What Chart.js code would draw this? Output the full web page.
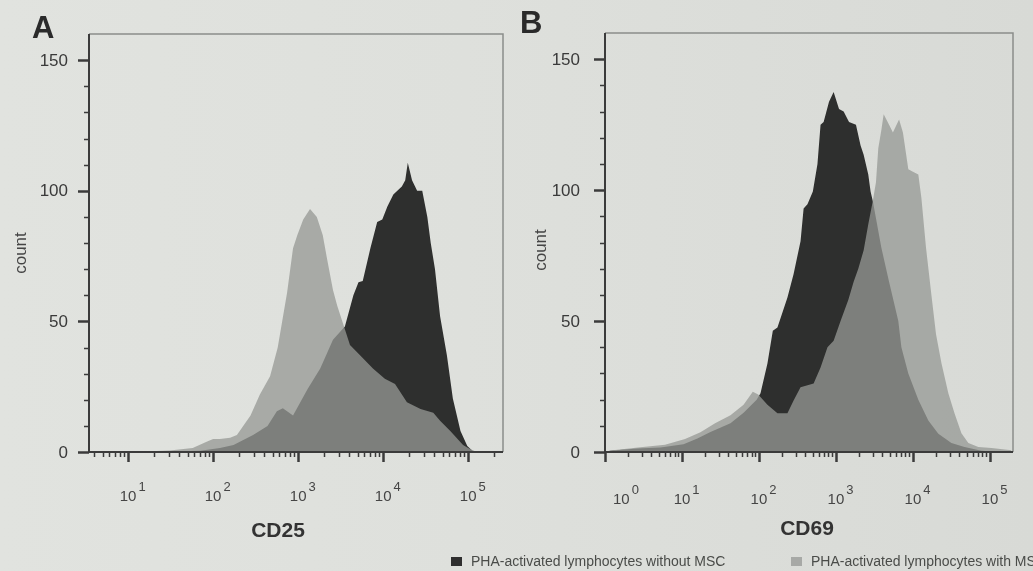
<!DOCTYPE html>
<html>
<head>
<meta charset="utf-8">
<script src="https://cdn.jsdelivr.net/npm/chart.js@4.4.1/dist/chart.umd.min.js"></script>
<style>
  html, body { margin: 0; padding: 0; }
  body {
    width: 1033px; height: 571px; overflow: hidden; position: relative;
    background: linear-gradient(90deg, #e1e3df 0%, #dee0dc 45%, #d8dad6 100%);
    font-family: "Liberation Sans", Arial, sans-serif;
  }
  canvas { position: absolute; top: 0; }
  #panelA { left: 0; }
  #panelB { left: 516px; }
  .key { position: absolute; top: 553px; font-size: 14px; line-height: 16px; color: #4a4c49; white-space: nowrap; filter: blur(0.5px); }
  .key i { display: inline-block; width: 11px; height: 9px; margin-right: 9px; vertical-align: 0px; }
</style>
</head>
<body>
<canvas id="panelA" width="516" height="571"></canvas>
<canvas id="panelB" width="517" height="571"></canvas>
<div class="key" id="key0" style="left:451px"><i style="background:#2f2f2f"></i><span></span></div>
<div class="key" id="key1" style="left:791px"><i style="background:#a7a9a6"></i><span></span></div>

<script>
// Series names shared by both panels
const seriesNames = ['PHA-activated lymphocytes without MSC', 'PHA-activated lymphocytes with MSC'];

// Count axis ticks (both panels)
const countTicks = [0, 50, 100, 150];

// Panel A: CD25 — fluorescence as log10 intensity, and event counts
const cd25Decades = [1, 2, 3, 4, 5];
const cd25WithoutLog = [1.26, 1.85, 2.08, 2.24, 2.47, 2.64, 2.75, 2.82, 2.94, 3.11, 3.26, 3.41, 3.55, 3.65, 3.71, 3.76, 3.85, 3.93, 3.99, 4.05, 4.12, 4.22, 4.26, 4.29, 4.34, 4.40, 4.46, 4.52, 4.56, 4.61, 4.67, 4.75, 4.82, 4.91, 4.99, 5.05, 5.14];
const cd25WithoutCount = [0, 0.5, 1.5, 2.7, 6.5, 10, 15.6, 16.7, 14, 24, 32, 43, 48, 60, 65, 65.5, 78, 88, 89, 94, 98.6, 101.6, 104, 110.7, 104, 100, 100, 90, 80, 70, 52, 37, 20.5, 8, 2.3, 0.5, 0];
const cd25WithLog = [1.0, 1.26, 1.49, 1.76, 1.93, 2.00, 2.08, 2.20, 2.28, 2.44, 2.55, 2.67, 2.76, 2.87, 2.94, 2.99, 3.06, 3.14, 3.22, 3.29, 3.34, 3.41, 3.46, 3.55, 3.61, 3.76, 3.88, 4.02, 4.14, 4.28, 4.44, 4.59, 4.67, 4.79, 4.94, 5.00, 5.08, 5.20];
const cd25WithCount = [0, 0.3, 0.6, 1.5, 4, 5, 5, 5.5, 6.5, 14, 22, 29, 40, 61, 78, 83, 89, 93, 90, 83, 74, 62, 56, 47, 41, 36, 32, 28, 26, 19, 16.5, 15, 12, 8, 2.7, 1.5, 0.3, 0];

// Panel B: CD69 — fluorescence as log10 intensity, and event counts
const cd69Decades = [0, 1, 2, 3, 4, 5];
const cd69WithoutLog = [0, 0.065, 0.42, 0.72, 1.02, 1.20, 1.37, 1.63, 1.80, 1.97, 2.02, 2.11, 2.18, 2.24, 2.37, 2.45, 2.54, 2.58, 2.63, 2.70, 2.76, 2.80, 2.84, 2.91, 2.97, 3.04, 3.10, 3.17, 3.26, 3.32, 3.36, 3.42, 3.45, 3.48, 3.59, 3.69, 3.81, 3.85, 3.94, 4.07, 4.20, 4.33, 4.50, 4.67, 4.89, 5.15];
const cd69WithoutCount = [0, 0.5, 1.3, 1.7, 3, 5.2, 7.6, 11, 15, 20, 22.4, 33.8, 46.3, 47.5, 59, 68, 80.5, 93, 94.6, 99.5, 110, 125, 126, 133.7, 137.5, 131, 130, 126, 125, 117, 113.5, 106, 99.5, 95.7, 78, 65, 50, 40, 30, 20, 12, 7, 3.4, 1.9, 0.5, 0];
const cd69WithLog = [0, 0.13, 0.46, 0.78, 1.04, 1.24, 1.43, 1.63, 1.80, 1.92, 1.99, 2.11, 2.24, 2.37, 2.45, 2.54, 2.71, 2.80, 2.89, 2.97, 3.06, 3.16, 3.23, 3.29, 3.36, 3.42, 3.48, 3.52, 3.55, 3.59, 3.62, 3.69, 3.74, 3.82, 3.87, 3.94, 4.00, 4.07, 4.11, 4.17, 4.24, 4.30, 4.37, 4.46, 4.54, 4.63, 4.72, 4.85, 5.02, 5.28];
const cd69WithCount = [0, 0.8, 1.8, 2.8, 5, 7.5, 11, 14, 18, 23, 22, 18, 14.8, 14.8, 19.7, 24.7, 26.2, 32.3, 40, 42.5, 50, 58, 65, 70, 77, 87, 96, 103, 116, 123, 129, 125, 122, 127, 122, 108, 107, 106, 97, 78, 60, 45, 34, 22.4, 14.8, 7.2, 3.4, 1.9, 1.5, 0.7];

const points = (logs, counts) => logs.map((e, i) => ({ x: Math.pow(10, e), y: counts[i] }));

const FONT = '"Liberation Sans", Arial, sans-serif';

// Draws the frame, tick marks, tick labels and titles from the chart's own scales
const axisDecor = {
  id: 'axisDecor',
  afterDraw(chart, args, o) {
    const { ctx, chartArea: a, scales: { x, y } } = chart;
    ctx.save();

    // light frame on top and right
    ctx.strokeStyle = '#8b8d8a';
    ctx.lineWidth = 1.5;
    ctx.beginPath();
    ctx.moveTo(a.left, a.top); ctx.lineTo(a.right, a.top); ctx.lineTo(a.right, a.bottom);
    ctx.stroke();

    // axis lines
    ctx.strokeStyle = '#3b3b3b';
    ctx.lineWidth = 2;
    ctx.beginPath();
    ctx.moveTo(a.left, a.top); ctx.lineTo(a.left, a.bottom); ctx.lineTo(a.right, a.bottom);
    ctx.stroke();

    // count ticks: majors every 50, minors every 10
    const top = countTicks[countTicks.length - 1];
    for (let v = 0; v <= top; v += 10) {
      const py = Math.round(y.getPixelForValue(v)) + 0.5;
      const major = countTicks.includes(v);
      ctx.lineWidth = major ? 2.5 : 1.5;
      ctx.beginPath();
      ctx.moveTo(a.left, py); ctx.lineTo(a.left - (major ? 11 : 5), py);
      ctx.stroke();
    }
    ctx.fillStyle = '#3a3a3a';
    ctx.font = '17px ' + FONT;
    ctx.textAlign = 'right';
    ctx.textBaseline = 'middle';
    countTicks.forEach(v => ctx.fillText(String(v), a.left - o.yLabelGap, y.getPixelForValue(v) + 1));

    // fluorescence ticks: decades and 2..9 minors
    const lo = Math.log10(x.min), hi = Math.log10(x.max);
    ctx.strokeStyle = '#3b3b3b';
    for (let n = Math.floor(lo); n <= Math.ceil(hi); n++) {
      for (let k = 1; k <= 9; k++) {
        const v = k * Math.pow(10, n);
        if (v < x.min - 1e-9 || v > x.max) continue;
        const px = Math.round(x.getPixelForValue(v)) + 0.5;
        const major = k === 1;
        ctx.lineWidth = major ? 2.5 : 1.5;
        ctx.beginPath();
        ctx.moveTo(px, a.bottom); ctx.lineTo(px, a.bottom + (major ? 10 : 5));
        ctx.stroke();
      }
    }

    // decade labels 10^n
    ctx.textAlign = 'left';
    ctx.textBaseline = 'alphabetic';
    ctx.fillStyle = '#454545';
    o.decades.forEach(d => {
      const px = x.getPixelForValue(Math.pow(10, d));
      ctx.font = '15px ' + FONT;
      const wBase = ctx.measureText('10').width;
      let left = px - wBase / 2;
      if (left < a.left + 6) left = a.left + 8;
      ctx.fillText('10', left, o.xLabelBase);
      ctx.font = '13px ' + FONT;
      ctx.fillText(String(d), left + wBase + 2, o.xLabelBase - 10);
    });

    // axis titles
    ctx.fillStyle = '#333';
    ctx.font = 'bold 21px ' + FONT;
    ctx.textAlign = 'center';
    ctx.textBaseline = 'middle';
    ctx.fillText(o.title, o.titleX, o.titleY);

    ctx.save();
    ctx.translate(o.countX, o.countY);
    ctx.rotate(-Math.PI / 2);
    ctx.fillStyle = '#444';
    ctx.font = '17px ' + FONT;
    ctx.fillText('count', 0, 0);
    ctx.restore();

    // panel letter
    ctx.fillStyle = '#2a2a2a';
    ctx.font = 'bold 31px ' + FONT;
    ctx.textAlign = 'left';
    ctx.textBaseline = 'alphabetic';
    ctx.fillText(o.letter, o.letterX, o.letterY);

    ctx.restore();
  }
};

function makePanel(id, p) {
  return new Chart(document.getElementById(id), {
    type: 'line',
    data: {
      datasets: [
        { label: seriesNames[1], data: points(p.withLog, p.withCount),
          backgroundColor: 'rgba(150,152,149,0.76)', borderColor: 'rgba(0,0,0,0)', fill: 'origin', order: 0 },
        { label: seriesNames[0], data: points(p.withoutLog, p.withoutCount),
          backgroundColor: '#2e2f2e', borderColor: 'rgba(0,0,0,0)', fill: 'origin', order: 1 }
      ]
    },
    options: {
      responsive: false,
      animation: false,
      layout: { padding: p.padding },
      elements: { line: { borderWidth: 0, tension: 0 }, point: { radius: 0, hoverRadius: 0 } },
      plugins: { legend: { display: false }, tooltip: { enabled: false }, axisDecor: p.decor },
      scales: {
        x: { type: 'logarithmic', min: Math.pow(10, p.xMinLog), max: Math.pow(10, p.xMaxLog), display: false },
        y: { type: 'linear', min: 0, max: 160, display: false }
      }
    },
    plugins: [axisDecor]
  });
}

makePanel('panelA', {
  withoutLog: cd25WithoutLog, withoutCount: cd25WithoutCount,
  withLog: cd25WithLog, withCount: cd25WithCount,
  xMinLog: 0.54, xMaxLog: 5.41,
  padding: { left: 89, top: 34, right: 13, bottom: 119 },
  decor: { decades: cd25Decades, title: 'CD25', titleX: 278, titleY: 531, xLabelBase: 501,
           yLabelGap: 21, countX: 21, countY: 253, letter: 'A', letterX: 32, letterY: 38 }
});

makePanel('panelB', {
  withoutLog: cd69WithoutLog, withoutCount: cd69WithoutCount,
  withLog: cd69WithLog, withCount: cd69WithCount,
  xMinLog: 0, xMaxLog: 5.3,
  padding: { left: 89, top: 33, right: 20, bottom: 119 },
  decor: { decades: cd69Decades, title: 'CD69', titleX: 291, titleY: 529, xLabelBase: 504,
           yLabelGap: 25, countX: 25, countY: 250, letter: 'B', letterX: 4, letterY: 33 }
});

document.querySelector('#key0 span').textContent = seriesNames[0];
document.querySelector('#key1 span').textContent = seriesNames[1];
</script>
</body>
</html>
